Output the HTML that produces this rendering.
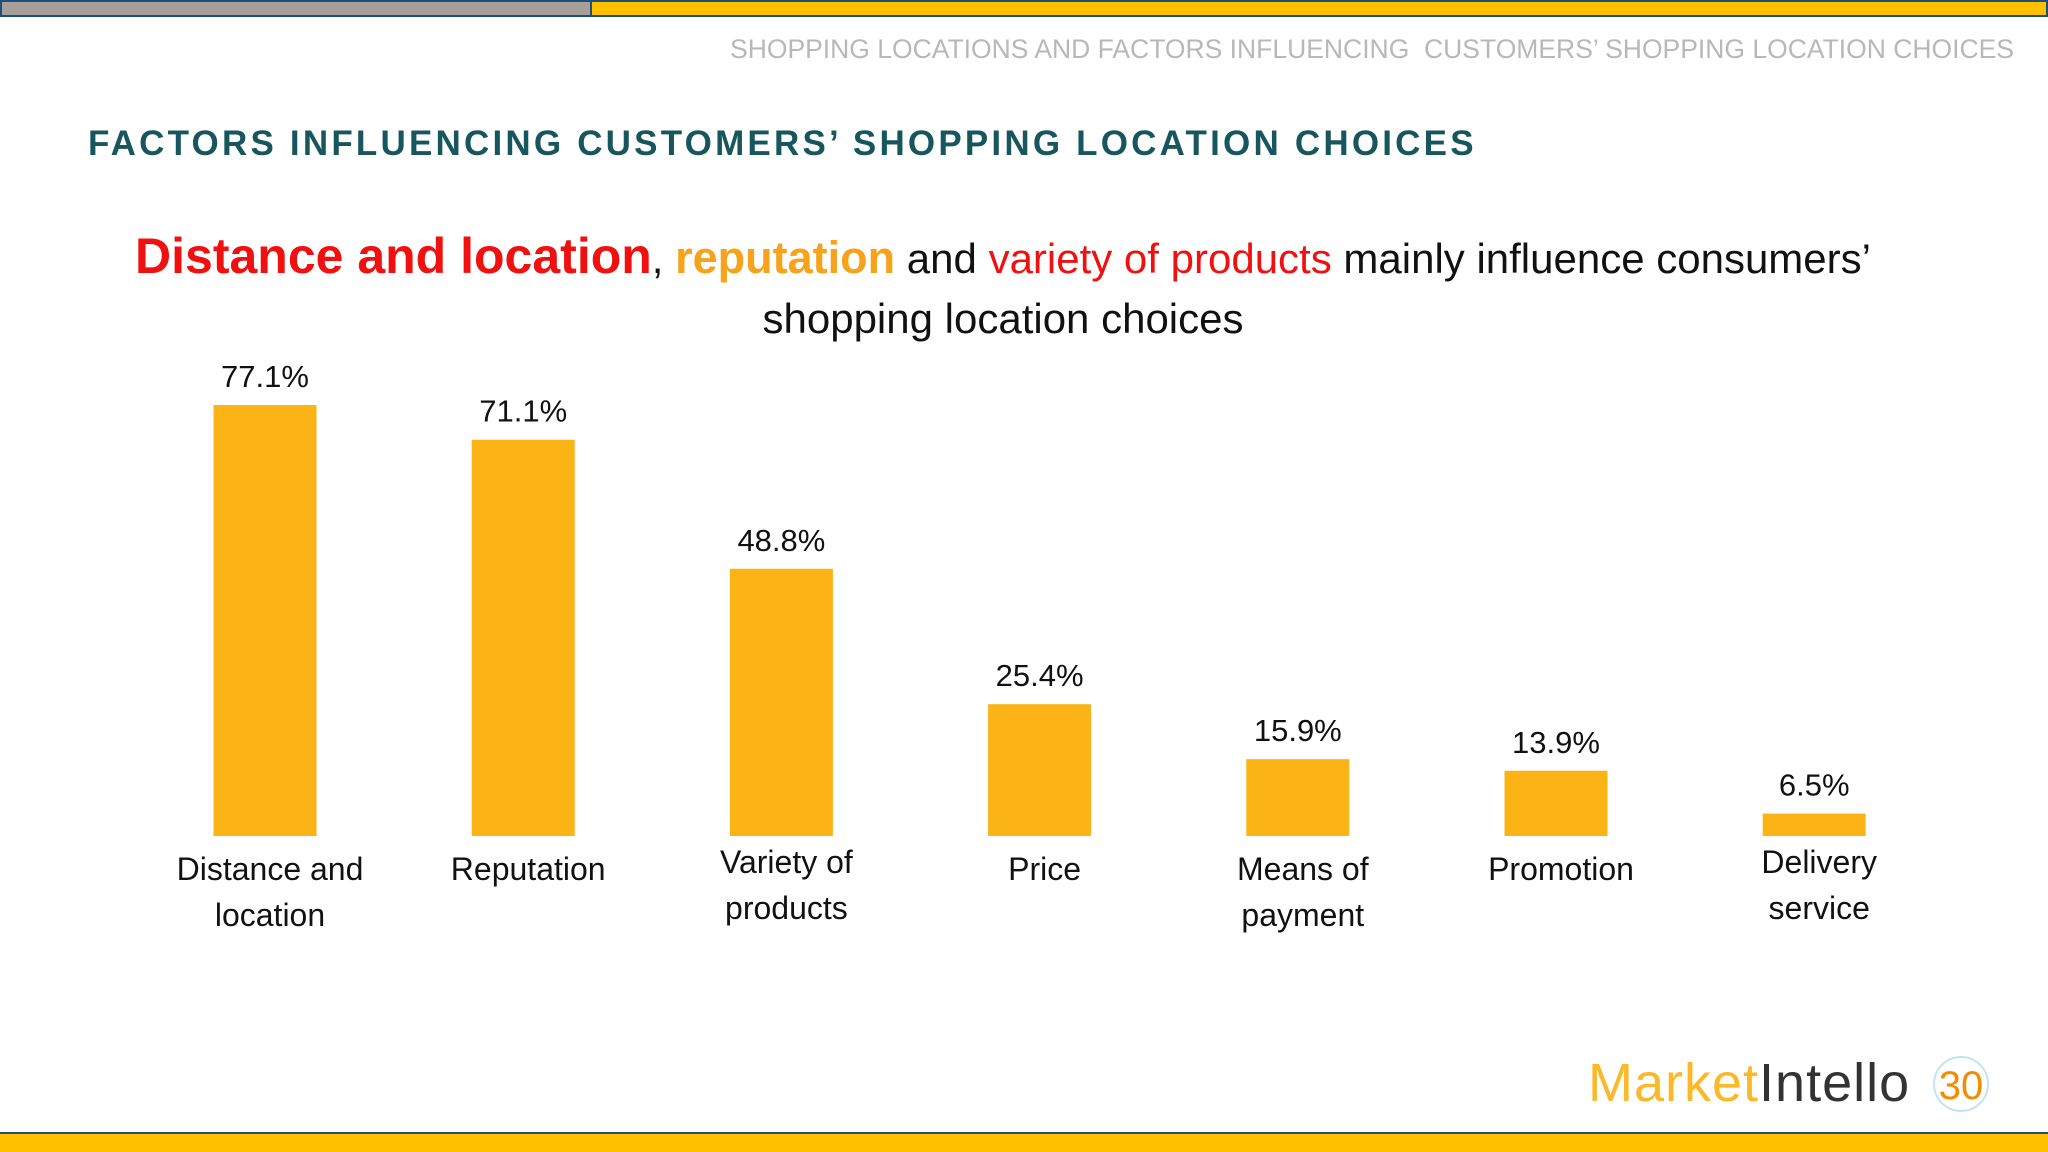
<!DOCTYPE html>
<html><head><meta charset="utf-8"><style>
body{margin:0;width:2048px;height:1152px;background:#fff;position:relative;overflow:hidden;font-family:"Liberation Sans",sans-serif}
.abs{position:absolute}
</style></head><body>
<div class="abs" style="left:0;top:0;width:592px;height:17px;background:#a59e9a;border:2px solid #1f4e79;box-sizing:border-box"></div>
<div class="abs" style="left:592px;top:0;width:1456px;height:17px;background:#ffc000;border:2px solid #1f4e79;border-left:none;box-sizing:border-box"></div>
<div class="abs" style="right:34px;top:34px;font-size:26.5px;color:#b8b8b8;white-space:nowrap">SHOPPING LOCATIONS AND FACTORS INFLUENCING&nbsp; CUSTOMERS’ SHOPPING LOCATION CHOICES</div>
<div class="abs" style="left:88px;top:124px;font-size:35px;font-weight:bold;letter-spacing:3.2px;color:#17565c;white-space:nowrap">FACTORS INFLUENCING CUSTOMERS’ SHOPPING LOCATION CHOICES</div>
<div class="abs" style="left:0;width:2006px;top:226px;text-align:center;font-size:42px;line-height:60px;color:#111">
<span style="color:#f01010;font-weight:bold;font-size:50px">Distance and location</span>, <span style="color:#f7a21b;font-weight:bold;font-size:45px">reputation</span> and <span style="color:#f01010">variety of products</span> mainly influence consumers’<br>shopping location choices</div>
<svg class="abs" style="left:0;top:0" width="2048" height="1152" id="chart"></svg>
<div class="abs" style="left:1588px;top:1052px;font-size:54px;letter-spacing:1px;white-space:nowrap"><span style="color:#fbb829">Market</span><span style="color:#333">Intello</span></div>
<div class="abs" style="left:1933px;top:1056px;width:56px;height:56px;border:2px solid #bfe6f0;border-radius:50%;text-align:center;line-height:56px;font-size:40px;color:#f28c00;box-sizing:border-box">30</div>
<div class="abs" style="left:0;top:1132px;width:2048px;height:20px;background:#ffc000;border-top:2px solid #1f4e79;box-sizing:border-box"></div>
<script>
const categories=[["Distance and","location"],["Reputation"],["Variety of","products"],["Price"],["Means of","payment"],["Promotion"],["Delivery","service"]];
const values=[77.1,71.1,48.8,25.4,15.9,13.9,6.5];
const valueLabels=["77.1%","71.1%","48.8%","25.4%","15.9%","13.9%","6.5%"];
const svg=document.getElementById('chart');const NS='http://www.w3.org/2000/svg';
const x0=265,step=258.2,base=836,bw=103;
const yScale=v=>Math.max(4,v*5.787-15.2);
const xPos=i=>x0+i*step;
values.forEach((v,i)=>{
 const cx=xPos(i),h=yScale(v);
 const r=document.createElementNS(NS,'rect');
 r.setAttribute('x',cx-bw/2);r.setAttribute('y',base-h);r.setAttribute('width',bw);r.setAttribute('height',h);r.setAttribute('fill','#fbb316');
 
 
 svg.appendChild(r);
 const t=document.createElementNS(NS,'text');
 t.setAttribute('x',cx);t.setAttribute('y',base-h-18);t.setAttribute('text-anchor','middle');t.setAttribute('font-size','31');t.setAttribute('fill','#111');t.setAttribute('font-family','Liberation Sans, sans-serif');
 t.textContent=valueLabels[i];
 
 
 svg.appendChild(t);
 const lines=categories[i];
 const startY=(i==2||i==6)?873:880;
 lines.forEach((ln,j)=>{
  const c=document.createElementNS(NS,'text');
  c.setAttribute('x',cx+5);c.setAttribute('y',startY+j*46);c.setAttribute('text-anchor','middle');c.setAttribute('font-size','32');c.setAttribute('fill','#111');c.setAttribute('font-family','Liberation Sans, sans-serif');
  c.textContent=ln;
  
  
  svg.appendChild(c);
 });
});
</script>
</body></html>
